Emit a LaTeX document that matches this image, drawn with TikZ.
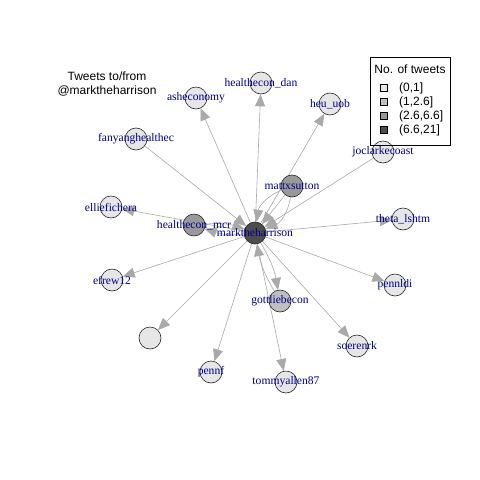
\documentclass[tikz,border=0pt]{standalone}
\usepackage{fontspec}
\setmainfont{Liberation Serif}
\setsansfont{Liberation Sans}
\usetikzlibrary{arrows.meta,backgrounds}

\definecolor{lblblue}{HTML}{00008B}
\definecolor{edgegray}{HTML}{A9A9A9}
\definecolor{tw1}{HTML}{E6E6E6}
\definecolor{tw2}{HTML}{BFBFBF}
\definecolor{tw3}{HTML}{999999}
\definecolor{tw4}{HTML}{4D4D4D}

\begin{document}
\begin{tikzpicture}[x=1pt,y=-1pt,
	vtx/.style={circle,draw=black!85,line width=0.6pt,minimum size=22pt,inner sep=0pt},
	lbl/.style={text=lblblue,font=\fontsize{11.6}{12}\selectfont},
	twt/.style={draw=edgegray,line width=0.6pt,-{Triangle[length=12pt,width=10pt,fill=edgegray]}},
	keybox/.style={draw=black,line width=0.5pt,minimum size=7pt,inner sep=0pt},
	keytext/.style={font=\sffamily\fontsize{12}{14}\selectfont,anchor=west,inner sep=0pt}]

	\useasboundingbox (0,0) rectangle (480,480);

	% Vertices

	\node[vtx,fill=tw4,label={[lbl]center:marktheharrison}] (mth) at (255,233) {};
	\node[vtx,fill=tw3,label={[lbl]center:healthecon\_mcr}] (mcr) at (194,225) {};
	\node[vtx,fill=tw3,label={[lbl]center:mattxsutton}] (mattx) at (292,186) {};
	\node[vtx,fill=tw2,label={[lbl]center:gottliebecon}] (gott) at (280,301) {};
	\node[vtx,fill=tw1,label={[lbl]center:asheconomy}] (ashe) at (196,98) {};
	\node[vtx,fill=tw1,label={[lbl]center:healthecon\_dan}] (hdan) at (261,83) {};
	\node[vtx,fill=tw1,label={[lbl]center:heu\_uob}] (heu) at (330,104) {};
	\node[vtx,fill=tw1,label={[lbl]center:joclarkecoast}] (jocl) at (383,152) {};
	\node[vtx,fill=tw1,label={[lbl]center:fanyanghealthec}] (fany) at (136,139) {};
	\node[vtx,fill=tw1,label={[lbl]center:elliefichera}] (ellie) at (111,207) {};
	\node[vtx,fill=tw1,label={[lbl]center:theta\_lshtm}] (theta) at (403,219) {};
	\node[vtx,fill=tw1,label={[lbl]center:efrew12}] (efrew) at (112,280) {};
	\node[vtx,fill=tw1,label={[lbl]center:pennldi}] (pennldi) at (395,285) {};
	\node[vtx,fill=tw1] (blank) at (150,338) {};
	\node[vtx,fill=tw1,label={[lbl]center:pennf}] (pennf) at (211,372) {};
	\node[vtx,fill=tw1,label={[lbl]center:tommyallen87}] (tommy) at (286,382) {};
	\node[vtx,fill=tw1,label={[lbl]center:soerenrk}] (soeren) at (357,346) {};

	% Edges

	\begin{pgfonlayer}{background}
	\foreach \v in {ashe,hdan,heu,ellie,theta,efrew,pennldi,blank,pennf,tommy,soeren}
		\draw[twt] (mth) -- (\v);
	\draw[twt] (jocl) -- (mth);
	\draw[twt] (fany) -- (mth);
	\draw[twt] (mth) to[bend left=12] (mcr);
	\draw[twt] (mcr) to[bend left=12] (mth);
	\draw[twt] (mth) to[bend left=10] (gott);
	\draw[twt] (gott) to[bend left=10] (mth);
	\draw[twt] (mattx) to[bend left=30] (mth);
	\draw[twt] (mattx) -- (mth);
	\draw[twt] (mattx) to[bend right=30] (mth);
	\end{pgfonlayer}

	% Title and key

	\node[font=\sffamily\fontsize{12}{14}\selectfont,align=center] (title) at (107,84) {Tweets to/from\\@marktheharrison};

	\node[draw=black,line width=0.5pt,minimum width=80pt,minimum height=88pt,inner sep=0pt] (key) at (410,101) {};
	\node[font=\sffamily\fontsize{12}{14}\selectfont] (keytitle) at (410,69) {No. of tweets};
	\foreach \c/\t [count=\i] in {tw1/{(0,1]},tw2/{(1,2.6]},tw3/{(2.6,6.6]},tw4/{(6.6,21]}}
	{
		\node[keybox,fill=\c] (box\i) at (383.5,74+14*\i) {};
		\node[keytext] (txt\i) at (399,74+14*\i) {\t};
	}

\end{tikzpicture}
\end{document}
